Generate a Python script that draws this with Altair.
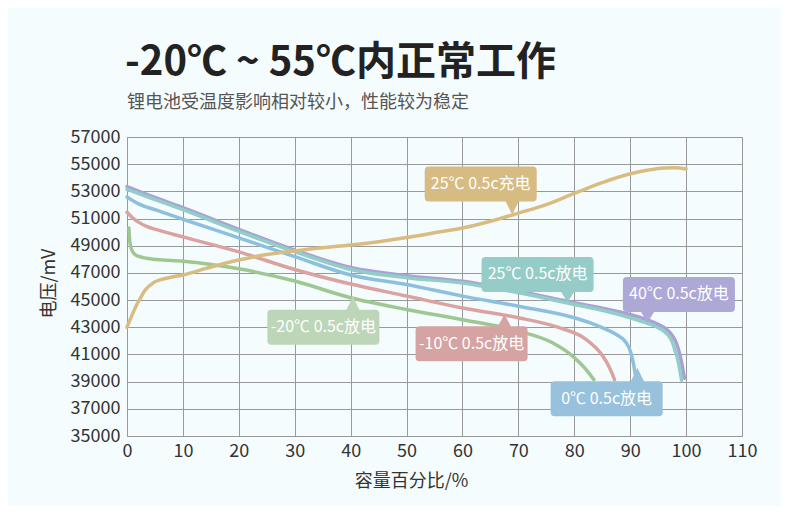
import altair as alt
import pandas as pd

FONT = "Noto Sans CJK SC"

# ---------------- data ----------------
# 40℃ 0.5c discharge
x_d40 = [0, 5, 10, 20, 30, 40, 50, 60, 70, 80, 85, 90, 93, 95, 96.5, 97.6, 98.3, 98.8, 99.3, 99.7]
y_d40 = [53350, 52550, 51800, 50200, 48680, 47400, 46800, 46380, 45650, 44800, 44400, 43940,
         43550, 43210, 42850, 42350, 41800, 41130, 40200, 39250]
# 25℃ 0.5c discharge
x_d25 = [0, 5, 10, 20, 30, 40, 50, 60, 70, 80, 85, 90, 93, 95, 96.5, 97.6, 98.1, 98.5, 98.9, 99.2]
y_d25 = [53150, 52400, 51650, 50050, 48560, 47250, 46650, 46250, 45540, 44680, 44250, 43700,
         43300, 42970, 42550, 41860, 41200, 40640, 39800, 39100]
# 0℃ 0.5c discharge
x_d0 = [0, 1, 2, 5, 10, 20, 30, 40, 50, 60, 70, 80, 83, 85.7, 87.6, 89.3, 90.1, 90.6, 91.0]
y_d0 = [52590, 52330, 52100, 51650, 50950, 49580, 48200, 46850, 46150, 45290, 44550, 43700,
        43300, 42840, 42450, 41860, 41150, 40300, 39300]
# -10℃ 0.5c discharge
x_dm10 = [0, 1, 2.2, 3.5, 5.3, 10, 20, 30, 40, 50, 60, 70, 77.3, 82.1, 85.1, 86.4, 87.2]
y_dm10 = [51460, 51050, 50700, 50420, 50180, 49650, 48550, 47250, 46180, 45300, 44420, 43700,
          42970, 42110, 40880, 39950, 39150]
# -20℃ 0.5c discharge
x_dm20 = [0.35, 0.5, 0.8, 1.3, 2, 3.5, 5.3, 10, 20, 30, 40, 50, 60, 70, 76.1, 79.7, 82.2, 83.5]
y_dm20 = [50300, 49300, 48750, 48400, 48230, 48080, 47980, 47860, 47300, 46400, 45170, 44310,
          43560, 42720, 41860, 40880, 39850, 39150]
# 25℃ 0.5c charge
x_chg = [0, 0.8, 1.6, 2.4, 3.1, 4, 4.8, 6, 8, 10, 14.3, 20, 25, 30, 35, 40, 45, 50, 55, 60,
         65, 70, 75, 80, 85, 90, 93, 96, 98, 100]
y_chg = [43000, 43800, 44550, 45150, 45650, 46050, 46300, 46500, 46700, 46850, 47350, 47950,
         48350, 48620, 48850, 49050, 49300, 49600, 49950, 50300, 50800, 51400, 52030, 52850,
         53650, 54300, 54550, 54720, 54740, 54650]

series_names = ["40℃ 0.5c放电", "25℃ 0.5c放电", "0℃ 0.5c放电",
                "-10℃ 0.5c放电", "-20℃ 0.5c放电", "25℃ 0.5c充电"]
series_x = [x_d40, x_d25, x_d0, x_dm10, x_dm20, x_chg]
series_y = [y_d40, y_d25, y_d0, y_dm10, y_dm20, y_chg]
line_colors = ["#A9A1D6", "#91CEC7", "#8DC0DF", "#DBA2A2", "#9FC791", "#D9BC82"]

# callouts: label text and the point of the curve the pointer touches
callout_labels = ["25℃ 0.5c充电", "25℃ 0.5c放电", "40℃ 0.5c放电",
                  "-20℃ 0.5c放电", "-10℃ 0.5c放电", "0℃ 0.5c放电"]
callout_x = [68.9, 78.8, 93.1, 40.4, 67.5, 91.3]
callout_y = [51290, 44850, 43330, 45270, 43940, 40030]
callout_colors = ["#D6BB83", "#96CCC7", "#ADA8D6", "#BDD6B8", "#D6A3A3", "#97C1DC"]
# offset (px) of box centre from pointer tip
callout_offsets = [(-31.5, -30.5), (-30, -27.7), (31.4, -28.3),
                   (-29.5, 30.8), (-32.8, 29.2), (-30.8, 31)]

x_ticks = list(range(0, 111, 10))
y_ticks = list(range(35000, 57001, 2000))

title_text = "-20℃ ~ 55℃内正常工作"
subtitle_text = "锂电池受温度影响相对较小，性能较为稳定"

# ---------------- encodings ----------------
x_enc = alt.X(
    "x:Q",
    scale=alt.Scale(domain=[0, 110], nice=False, zero=False),
    axis=alt.Axis(values=x_ticks, title="容量百分比/%", ticks=False, labelPadding=6,
                  labelFlush=False, titleX=284, titlePadding=12),
)
y_enc = alt.Y(
    "y:Q",
    scale=alt.Scale(domain=[35000, 57000], nice=False, zero=False),
    axis=alt.Axis(values=y_ticks, format="d", title="电压/mV", ticks=False, labelPadding=7,
                  labelFlush=False, titleY=146, titlePadding=12),
)


def callout_path(cx, cy, w=112.0, h=35.0, r=4.0, b=6.5):
    L, R, T, B = cx - w / 2, cx + w / 2, cy - h / 2, cy + h / 2
    f = lambda v: f"{v:.1f}"
    if cy < 0:
        return (f"M{f(L + r)},{f(T)} L{f(R - r)},{f(T)} Q{f(R)},{f(T)} {f(R)},{f(T + r)} "
                f"L{f(R)},{f(B - r)} Q{f(R)},{f(B)} {f(R - r)},{f(B)} L{f(b)},{f(B)} L0,0 "
                f"L{f(-b)},{f(B)} L{f(L + r)},{f(B)} Q{f(L)},{f(B)} {f(L)},{f(B - r)} "
                f"L{f(L)},{f(T + r)} Q{f(L)},{f(T)} {f(L + r)},{f(T)} Z")
    return (f"M{f(L + r)},{f(T)} L{f(-b)},{f(T)} L0,0 L{f(b)},{f(T)} L{f(R - r)},{f(T)} "
            f"Q{f(R)},{f(T)} {f(R)},{f(T + r)} L{f(R)},{f(B - r)} Q{f(R)},{f(B)} {f(R - r)},{f(B)} "
            f"L{f(L + r)},{f(B)} Q{f(L)},{f(B)} {f(L)},{f(B - r)} L{f(L)},{f(T + r)} "
            f"Q{f(L)},{f(T)} {f(L + r)},{f(T)} Z")


layers = []
for name, xs, ys, col in zip(series_names, series_x, series_y, line_colors):
    df = pd.DataFrame({"x": xs, "y": ys, "series": name})
    layers.append(
        alt.Chart(df).mark_line(color=col, strokeWidth=3.5, interpolate="monotone",
                                strokeCap="round", strokeJoin="round")
        .encode(x=x_enc, y=y_enc)
    )

for lab, cxv, cyv, col, (dx, dy) in zip(callout_labels, callout_x, callout_y,
                                        callout_colors, callout_offsets):
    df = pd.DataFrame({"x": [cxv], "y": [cyv], "label": [lab]})
    layers.append(
        alt.Chart(df).mark_point(shape=callout_path(dx, dy), size=4, filled=True,
                                 color=col, opacity=1, strokeWidth=0)
        .encode(x=x_enc, y=y_enc)
    )
    layers.append(
        alt.Chart(df).mark_text(dx=dx, dy=dy, color="white", font=FONT, fontSize=16,
                                align="center", baseline="middle")
        .encode(x=x_enc, y=y_enc, text="label:N")
    )

title_layer = alt.Chart(pd.DataFrame({"t": [title_text]})).mark_text(
    font=FONT, fontSize=40, fontWeight="bold", color="#222222", align="left",
    baseline="alphabetic"
).encode(x=alt.value(-2), y=alt.value(-62), text="t:N")

subtitle_layer = alt.Chart(pd.DataFrame({"t": [subtitle_text]})).mark_text(
    font=FONT, fontSize=18, color="#555555", align="left", baseline="alphabetic"
).encode(x=alt.value(0), y=alt.value(-29), text="t:N")

chart = alt.layer(*layers, title_layer, subtitle_layer).properties(
    width=615,
    height=299,
    autosize=alt.AutoSizeParams(type="none"),
    padding={"left": 119, "top": 129, "right": 39, "bottom": 70},
    background="#F5FCFD",
).configure_axis(
    labelFont=FONT, labelFontSize=18, labelColor="#333333",
    titleFont=FONT, titleFontSize=18, titleFontWeight="normal", titleColor="#333333",
    gridColor="#999999", gridOpacity=1, gridWidth=1,
    domainColor="#999999", domainWidth=1,
).configure_view(stroke="#999999", strokeWidth=1)

chart.save("out.html", embed_options={"renderer": "svg", "actions": False})
